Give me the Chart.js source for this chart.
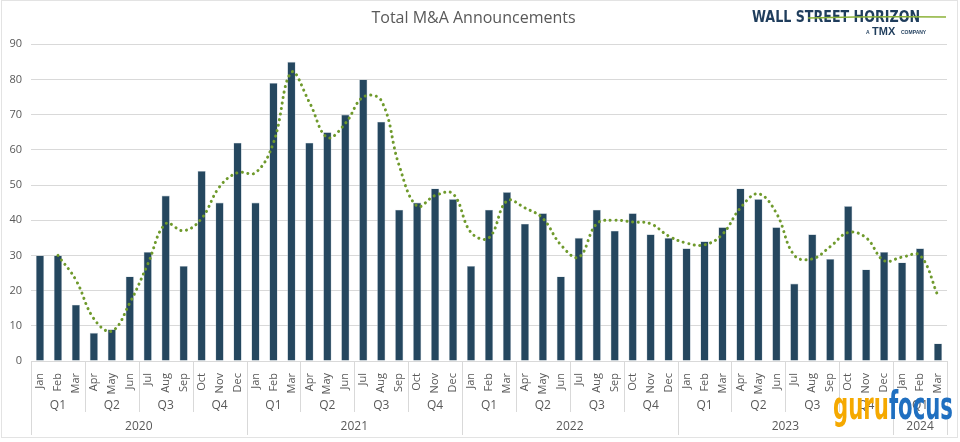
<html>
<head>
    <title>Total M&amp;A Announcements</title>
    <style>
        body { margin: 0; background: #fff; }
        #chart_wrap { width: 960px; height: 442px; }
    </style>
</head>
<body>

<script src="https://cdn.jsdelivr.net/npm/chart.js@4.4.1/dist/chart.umd.min.js"></script>

<div id="chart_wrap"><canvas id="ma_chart" width="960" height="442"></canvas></div>

<script>
    // monthly data, Jan 2020 .. Mar 2024
    const months = ['Jan', 'Feb', 'Mar', 'Apr', 'May', 'Jun', 'Jul', 'Aug', 'Sep', 'Oct', 'Nov', 'Dec',
        'Jan', 'Feb', 'Mar', 'Apr', 'May', 'Jun', 'Jul', 'Aug', 'Sep', 'Oct', 'Nov', 'Dec',
        'Jan', 'Feb', 'Mar', 'Apr', 'May', 'Jun', 'Jul', 'Aug', 'Sep', 'Oct', 'Nov', 'Dec',
        'Jan', 'Feb', 'Mar', 'Apr', 'May', 'Jun', 'Jul', 'Aug', 'Sep', 'Oct', 'Nov', 'Dec',
        'Jan', 'Feb', 'Mar'];
    const quarters = ['Q1', 'Q2', 'Q3', 'Q4', 'Q1', 'Q2', 'Q3', 'Q4', 'Q1', 'Q2', 'Q3', 'Q4',
        'Q1', 'Q2', 'Q3', 'Q4', 'Q1'];
    const years = ['2020', '2021', '2022', '2023', '2024'];
    const months_per_year = [12, 12, 12, 12, 3];

    const announcements = [30, 30, 16, 8, 9, 24, 31, 47, 27, 54, 45, 62,
        45, 79, 85, 62, 65, 70, 80, 68, 43, 45, 49, 46,
        27, 43, 48, 39, 42, 24, 35, 43, 37, 42, 36, 35,
        32, 34, 38, 49, 46, 38, 22, 36, 29, 44, 26, 31,
        28, 32, 5];

    // dotted trend line (2-month moving average)
    const trend = [null, 30, 23, 12, 8.5, 16.5, 27.5, 39, 37, 40.5, 49.5, 53.5,
        53.5, 62, 82, 73.5, 63.5, 67.5, 75, 74, 55.5, 44, 47, 47.5,
        36.5, 35, 45.5, 43.5, 40.5, 33, 29.5, 39, 40, 39.5, 39, 35.5,
        33.5, 33, 36, 43.5, 47.5, 42, 30, 29, 32.5, 36.5, 35, 28.5,
        29.5, 30, 18.5];

    const y_ticks = [0, 10, 20, 30, 40, 50, 60, 70, 80, 90];

    const grey_text = '#595959';
    const line_grey = '#d9d9d9';

    // draws quarter / year rows under the month labels, the frame and the logos
    const extras_plugin = {
        id: 'extras',
        afterDraw(chart) {
            const ctx = chart.ctx;
            const xs = chart.scales.x;
            const base = chart.chartArea.bottom;
            const step = xs.getPixelForValue(1) - xs.getPixelForValue(0);
            const edge = i => xs.getPixelForValue(i) - step / 2;

            ctx.save();
            ctx.strokeStyle = line_grey;
            ctx.lineWidth = 1;
            ctx.fillStyle = grey_text;
            ctx.textAlign = 'center';
            ctx.textBaseline = 'middle';

            // quarters
            ctx.font = '12px "Open Sans", "Liberation Sans", sans-serif';
            for (let q = 0; q < quarters.length; q++) {
                const a = edge(q * 3);
                const b = edge(Math.min(q * 3 + 3, months.length));
                ctx.fillText(quarters[q], (a + b) / 2, base + 45);
                ctx.beginPath();
                ctx.moveTo(Math.round(a) + 0.5, base);
                ctx.lineTo(Math.round(a) + 0.5, base + 51);
                ctx.stroke();
            }

            // years
            let start = 0;
            for (let y = 0; y < years.length; y++) {
                const a = edge(start);
                const b = edge(start + months_per_year[y]);
                ctx.fillText(years[y], (a + b) / 2, base + 66);
                ctx.beginPath();
                ctx.moveTo(Math.round(a) + 0.5, base);
                ctx.lineTo(Math.round(a) + 0.5, base + 74);
                ctx.stroke();
                start += months_per_year[y];
            }
            const last = edge(months.length);
            ctx.beginPath();
            ctx.moveTo(Math.round(last) + 0.5, base);
            ctx.lineTo(Math.round(last) + 0.5, base + 74);
            ctx.stroke();

            // outer frame
            ctx.strokeStyle = '#e3e3e3';
            ctx.strokeRect(1.5, 0.5, 956, 437);

            // Wall Street Horizon logo
            ctx.textAlign = 'left';
            ctx.textBaseline = 'alphabetic';
            ctx.fillStyle = '#1f3d5c';
            ctx.font = 'bold 16px "DejaVu Sans Condensed", "Liberation Sans Narrow", sans-serif';
            ctx.fillText('WALL STREET HORIZON', 752, 22, 168);
            ctx.strokeStyle = '#8db33a';
            ctx.lineWidth = 1.5;
            ctx.beginPath();
            ctx.moveTo(808, 18);
            ctx.quadraticCurveTo(880, 16, 946, 17);
            ctx.stroke();
            ctx.fillStyle = '#1f3d5c';
            ctx.font = 'bold 5px "Liberation Sans", sans-serif';
            ctx.fillText('A', 866, 34);
            ctx.font = 'bold 11px "Liberation Sans", sans-serif';
            ctx.fillText('TMX', 872, 35);
            ctx.font = 'bold 5px "Liberation Sans", sans-serif';
            ctx.fillText('COMPANY', 901, 34);

            // gurufocus watermark, squeezed to its width in the picture
            ctx.font = 'bold 39px "DejaVu Sans Condensed", "Liberation Sans Narrow", sans-serif';
            const w1 = ctx.measureText('guru').width;
            const w2 = ctx.measureText('focus').width;
            const sx = 120 / (w1 + w2);
            ctx.translate(833, 419);
            ctx.scale(sx, 1);
            ctx.fillStyle = '#f5a900';
            ctx.fillText('guru', 0, 0);
            ctx.fillStyle = '#1f6fc0';
            ctx.fillText('focus', w1, 0);
            ctx.restore();
        }
    };

    const ctx_chart = document.getElementById('ma_chart');
    const ma_chart = new Chart(ctx_chart, {
        type: 'bar',
        data: {
            labels: months,
            datasets: [
                {
                    type: 'line',
                    label: 'Trend',
                    data: trend,
                    borderColor: '#6f9a2c',
                    borderWidth: 3,
                    borderDash: [0.1, 5.5],
                    borderCapStyle: 'round',
                    pointRadius: 0,
                    tension: 0.4,
                    fill: false,
                    order: 0
                },
                {
                    label: 'Total M&A Announcements',
                    data: announcements,
                    backgroundColor: '#25475f',
                    borderColor: '#b9c6d0',
                    borderWidth: 0.6,
                    barPercentage: 0.46,
                    categoryPercentage: 1,
                    order: 1
                }
            ]
        },
        options: {
            responsive: false,
            animation: false,
            layout: {
                padding: {left: 0, right: 13, top: 0, bottom: 5}
            },
            plugins: {
                legend: {display: false},
                tooltip: {enabled: false},
                title: {
                    display: true,
                    text: 'Total M&A Announcements',
                    color: grey_text,
                    font: {family: '"Open Sans", "Liberation Sans", sans-serif', size: 16, weight: 'normal'},
                    padding: {top: 9, bottom: 16}
                }
            },
            scales: {
                x: {
                    grid: {display: false},
                    border: {display: true, color: line_grey},
                    ticks: {
                        color: grey_text,
                        font: {family: '"Open Sans", "Liberation Sans", sans-serif', size: 11},
                        minRotation: 90,
                        maxRotation: 90,
                        autoSkip: false,
                        padding: 4
                    },
                    afterFit: function (scale) {
                        scale.height = 76;
                    }
                },
                y: {
                    min: 0,
                    max: 90,
                    afterBuildTicks: function (scale) {
                        scale.ticks = y_ticks.map(v => ({value: v}));
                    },
                    grid: {color: line_grey, drawTicks: false},
                    border: {display: false},
                    ticks: {
                        color: grey_text,
                        font: {family: '"Open Sans", "Liberation Sans", sans-serif', size: 11},
                        padding: 9
                    },
                    afterFit: function (scale) {
                        scale.width = 31;
                    }
                }
            }
        },
        plugins: [extras_plugin]
    });
</script>

</body>
</html>
